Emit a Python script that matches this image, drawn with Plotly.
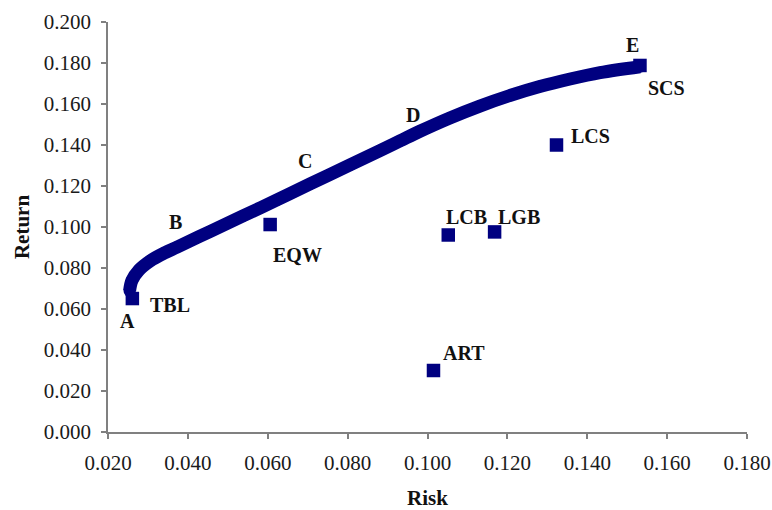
import plotly.graph_objects as go

# Efficient frontier (risk, return) pairs along the curve
frontier_risk = [0.0254, 0.0260, 0.0277, 0.0305, 0.0343, 0.0373, 0.0455, 0.0538,
                 0.0623, 0.0706, 0.0806, 0.0881, 0.0931, 0.0981, 0.1056, 0.1131,
                 0.1206, 0.1281, 0.1357, 0.1432, 0.1532]
frontier_return = [0.0688, 0.0740, 0.0789, 0.0834, 0.0875, 0.0902, 0.0978, 0.1054,
                   0.1132, 0.1210, 0.1303, 0.1373, 0.1420, 0.1467, 0.1532, 0.1590,
                   0.1641, 0.1685, 0.1722, 0.1753, 0.1782]

# Individual asset classes
asset_names = ["TBL", "EQW", "SCS", "LCS", "LCB", "LGB", "ART"]
asset_risk = [0.0261, 0.0606, 0.1532, 0.1323, 0.1052, 0.1168, 0.1015]
asset_return = [0.0651, 0.1012, 0.1788, 0.1400, 0.0961, 0.0976, 0.0300]

# Frontier portfolio labels
point_names = ["A", "B", "C", "D", "E"]
point_risk = [0.0250, 0.0368, 0.0693, 0.0963, 0.1513]
point_return = [0.0541, 0.1024, 0.1322, 0.1546, 0.1888]

NAVY = "#000080"
SERIF = "Liberation Serif, Times New Roman, serif"

fig = go.Figure()

fig.add_trace(go.Scatter(
    x=frontier_risk, y=frontier_return, mode="lines+markers",
    line=dict(color=NAVY, width=13, shape="spline", smoothing=1.0),
    marker=dict(color=NAVY, size=12, symbol="circle"),
    hoverinfo="skip", showlegend=False,
))

fig.add_trace(go.Scatter(
    x=asset_risk, y=asset_return, mode="markers",
    marker=dict(color=NAVY, size=13.5, symbol="square"),
    showlegend=False,
))

# label offsets (pixels) relative to each asset marker
label_shift = {
    "TBL": (38, -6), "EQW": (27, -30), "SCS": (27, -23), "LCS": (34, 9),
    "LCB": (18, 18), "LGB": (24, 15), "ART": (31, 18),
}

label_font = dict(family=SERIF, size=20, color="#111111", weight="bold")

for name, rx, ry in zip(asset_names, asset_risk, asset_return):
    dx, dy = label_shift[name]
    fig.add_annotation(x=rx, y=ry, text=name, showarrow=False,
                       xshift=dx, yshift=dy, font=label_font,
                       xanchor="center", yanchor="middle")

for name, rx, ry in zip(point_names, point_risk, point_return):
    fig.add_annotation(x=rx, y=ry, text=name, showarrow=False,
                       font=label_font, xanchor="center", yanchor="middle")

axis_common = dict(
    showgrid=False, zeroline=False, showline=True, automargin=False,
    linecolor="#808080", linewidth=1.5,
    ticks="outside", ticklen=5, tickcolor="#808080", tickwidth=1.5,
    tickformat=".3f", dtick=0.02,
    tickfont=dict(family=SERIF, size=21, color="#1a1a1a"),
)

fig.update_xaxes(range=[0.02, 0.18], tick0=0.02, ticklabelstandoff=6,
                 title=dict(text="Risk", standoff=25,
                            font=dict(family=SERIF, size=21, color="#111111", weight="bold")),
                 **axis_common)
fig.update_yaxes(range=[0.0, 0.2], tick0=0.0, ticklabelstandoff=6,
                 title=dict(text="Return", standoff=8,
                            font=dict(family=SERIF, size=21, color="#111111", weight="bold")),
                 **axis_common)

fig.update_layout(
    width=772, height=510,
    margin=dict(l=108, r=25, t=22, b=78),
    plot_bgcolor="white", paper_bgcolor="white",
)

fig.write_html("out.html")
